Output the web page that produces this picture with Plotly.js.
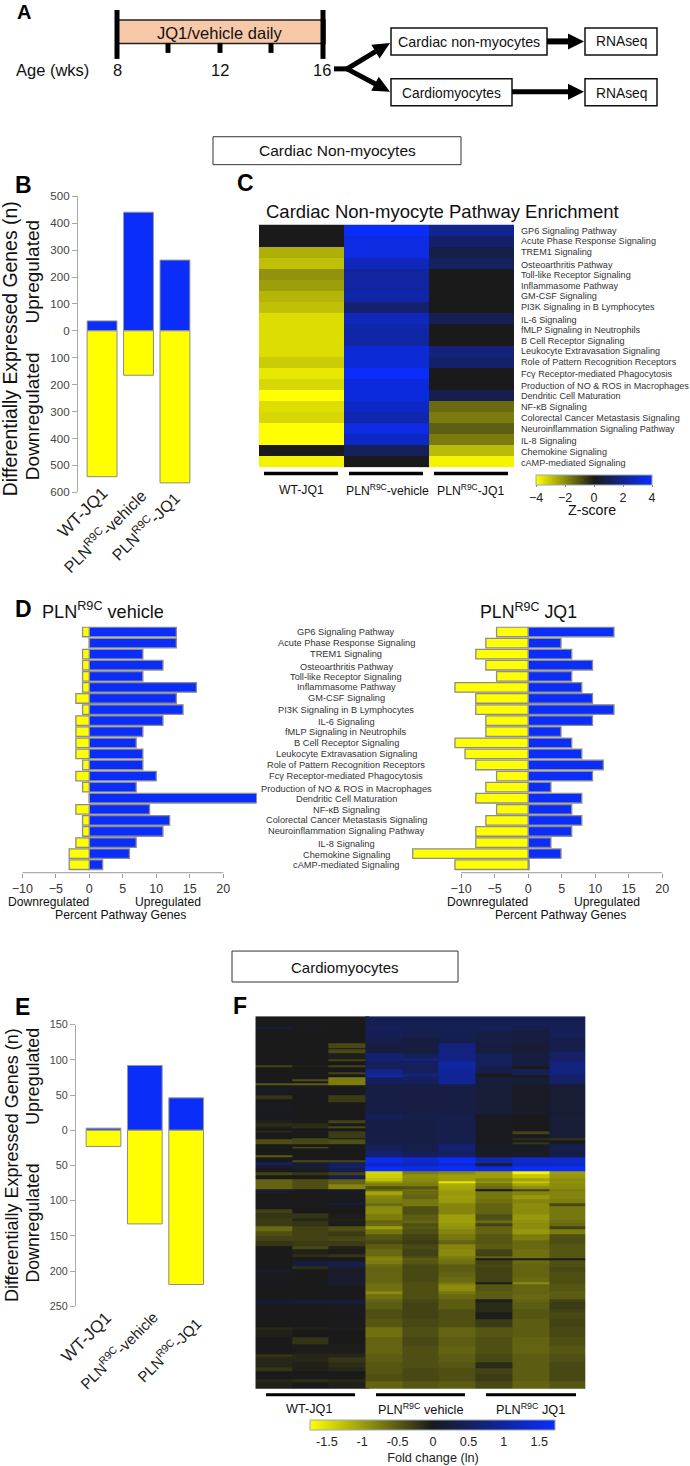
<!DOCTYPE html>
<html><head><meta charset="utf-8">
<script src="https://cdn.plot.ly/plotly-3.0.1.min.js"></script>
<style>html,body{margin:0;padding:0;background:#fff}</style></head>
<body><div id="chart" style="width:690px;height:1466px"></div>
<script>
// ---------- DATA ----------
const groupsB = ['WT-JQ1','PLN<sup>R9C</sup>-vehicle','PLN<sup>R9C</sup>-JQ1'];
const upB = [37, 441, 263];
const downB = [542, 165, 565];
const upE = [3, 92, 46];
const downE = [23, 133, 219];
const tickB = [500,400,300,200,100,0,-100,-200,-300,-400,-500,-600];
const tickE = [150,100,50,0,-50,-100,-150,-200,-250];
const pathways = ['GP6 Signaling Pathway','Acute Phase Response Signaling','TREM1 Signaling','Osteoarthritis Pathway','Toll-like Receptor Signaling','Inflammasome Pathway','GM-CSF Signaling','PI3K Signaling in B Lymphocytes','IL-6 Signaling','fMLP Signaling in Neutrophils','B Cell Receptor Signaling','Leukocyte Extravasation Signaling','Role of Pattern Recognition Receptors','Fcγ Receptor-mediated Phagocytosis','Production of NO & ROS in Macrophages','Dendritic Cell Maturation','NF-κB Signaling','Colorectal Cancer Metastasis Signaling','Neuroinflammation Signaling Pathway','IL-8 Signaling','Chemokine Signaling','cAMP-mediated Signaling'];
const zWT = [0,0,-2.6,-2.9,-2.1,-2.3,-2.7,-2.9,-3.4,-3.4,-3.4,-3.4,-3.1,-3.6,-3.3,-4,-3.4,-3.3,-4,-4,0,-3.8];
const zVeh = [3.9,3.5,3.5,2.8,2.3,2.4,2.5,1.5,2.8,2.5,2.4,3.3,3.3,3.9,3.4,3.4,3.0,2.6,3.5,3.0,1.1,0];
const zJQ = [2.0,1.4,0.8,1.2,0,0,0,0,1.0,0,0,1.7,1.4,0,0,0.9,-1.4,-1.7,-1.2,-1.7,-2.8,-3.8];
const vehUp = [13,13,8,11,8,16,13,14,11,8,7,8,8,10,7,25,9,12,11,7,6,2];
const vehDown = [1,0,1,1,1,1,2,1,2,2,2,2,1,2,1,0,2,1,1,2,3,3];
const jqUp = [12.8,4.9,6.5,9.6,6.5,8,9.6,12.8,9.6,4.9,6.5,8,11.2,9.6,3.4,8,6.5,8,6.5,3.4,4.9,0.15];
const jqDown = [4.7,6.3,7.8,6.3,4.7,10.9,7.8,7.8,6.3,6.3,10.9,9.4,7.8,4.7,6.3,7.8,4.7,6.3,7.8,7.8,17.2,10.9];
// Fold change: [rank where the band ends, replicate values]
const wtBands = [
[10,0,0,0],[13.3,.2,.05,0],[26.7,0,0,0],[31.7,0,0,-.35],[33.3,0,.03,0],[36.7,0,0,-.35],[43.3,0,0,-.03],[45,0,0,-.3],[49.3,0,0,0],[51,-.3,-.05,-.3],
[55.7,0,0,0],[58.3,0,0,-.3],[61,0,0,0],[63.3,0,0,-.75],[65,0,-.4,-.75],[66.7,0,0,-.75],[69,-.45,-.5,-.75],[79.3,.05,.02,0],[82.7,-.2,0,-.25],[85.7,0,0,-.25],
[95,.05,0,0],[104,.03,0,0],[106.7,-.05,-.02,-.3],[110,-.15,-.12,0],[112.3,-.05,-.15,-.35],[115,0,0,0],[116.3,-.2,-.05,-.25],[121.7,0,0,-.25],[123.3,0,-.35,0],[128.3,-.4,-.35,-.4],
[130.7,0,0,0],[132.3,0,-.5,0],[139.3,0,0,0],[141,-.5,0,0],[144.3,0,0,0],[146.3,0,-.35,-.35],[149.4,.55,.2,.5],[151.7,.1,.2,.55],[156,0,.05,.4],[159.4,-.3,-.2,-.3],
[163.4,0,0,.4],[168.4,-.55,-.4,-.55],[172.7,-.55,-.4,-.8],[176.7,.15,.05,.1],[186,0,0,0],[189.4,.05,.05,.2],[193.4,0,0,0],[196.7,-.3,0,0],[201.7,-.2,-.2,-.02],[205,-.25,-.1,-.05],
[210,-.25,-.2,-.02],[215,-.6,-.3,-.4],[220,-.4,-.3,-.25],[225,-.3,-.3,-.35],[230,-.2,-.25,-.25],[233.4,0,-.35,-.05],[238.4,0,-.05,-.02],[241.7,0,-.15,-.2],[245,0,0,0],[250.7,0,.3,.35],
[253.4,0,-.15,.2],[256.7,.15,0,.05],[269,.03,0,.15],[283.4,0,0,.03],[288.4,.15,.2,.2],[311.7,0,0,.02],[314.4,-.1,-.05,-.02],[321.7,-.05,0,0],[328.4,0,-.2,0],[338.4,0,-.02,-.02],
[341.7,-.2,-.1,-.1],[346.7,-.1,-.1,-.2],[351.7,-.1,-.05,-.15],[355,-.2,-.05,-.1],[363.4,0,0,0],[366.7,-.1,-.15,-.1],[373,-.05,0,-.05]
];
const plnBands = [
[10,.42,.42,.42,.42,.42,.42],[15,.47,.42,.42,.47,.38,.47],[21.7,.42,.38,.42,.33,.28,.47],[26.7,.38,.28,.38,.33,.28,.38],[35,.28,.28,.75,.28,.2,.38],[36.7,.28,.28,.8,.28,.2,.58],[41.7,.66,.5,.8,.5,.28,.58],[45,.66,.7,.8,.5,.28,.58],[50,.47,.5,1.05,.5,.28,.75],[53,.47,.5,1,.38,.02,.75],
[56.7,.88,.5,.97,.38,.45,.75],[59,.88,.7,.92,0,.45,.75],[61,1.15,.7,.92,.02,.02,.58],[68.3,.5,.5,.92,.28,.2,.58],[98.3,.33,.31,.33,.23,.1,.2],[103.3,.5,.38,.38,.05,.03,.23],[115,.33,.33,.38,.05,.02,.23],[118.3,.33,.33,.38,.05,-.3,.23],[121.7,.33,.33,.38,.05,.02,.23],[123.7,.33,.33,.38,.03,-.15,-.2],
[125.7,.33,.33,.38,.03,.02,.05],[128.3,.33,.33,.38,.03,-.2,.05],[135,.47,.38,.66,.1,.1,.38],[140,.66,.47,.55,.1,.1,.33],[141,.55,.47,.47,.1,.1,.33],[146.7,1.6,1.4,1.65,1.1,1.35,1.35],[150,1.25,1.15,1.35,.3,1.25,1.3],[155,1.75,1.6,1.75,1.5,1.7,1.7],[158.4,-1.4,-.75,-.85,-1,-1.65,-1],[161.7,-1.35,-.9,-1,-1,-1.3,-.95],
[165,-1.25,-.85,-1,-.8,-1.05,-.85],[167.4,-.95,-.8,-1.55,-.9,-1.3,-.9],[170,-.75,-.75,-1.1,-.7,-1.05,-.85],[173.4,-.4,-.45,-1.05,-.6,-.85,-.85],[174.7,-.6,-.65,-1,0,-.3,-.75],[179,-1.05,-.6,-.95,-.7,-.8,-.8],[183.4,-.8,-.55,-1,-.7,-.95,-.8],[187.4,-.75,-.7,-.95,-.65,-.8,-.75],[190,-.6,-.7,-.8,-.55,-.85,-.35],[198.4,-.85,-.4,-.8,-.55,-.85,-.7],
[204,-.75,-.5,-1,-.4,-.95,-.7],[206.7,-.55,-.55,-1,-.6,-.9,-.65],[210.7,-.6,-.4,-.95,-.3,-.85,-.6],[213.4,-1,-.45,-.9,-.55,-.85,-.3],[218.4,-.7,-.4,-.8,-.55,-.95,-.75],[224,-.45,-.3,-.7,-.45,-.75,-.4],[228.4,-.35,-.25,-.55,-.45,-.6,-.4],[233.4,-.5,-.35,-.8,-.5,-.6,-.45],[240,-.6,-.3,-.85,-.3,-.65,-.45],[242.4,-.75,-.4,-.75,-.55,-.65,-.45],
[244,-.8,-.5,-.7,0,-.02,-.02],[248.4,-.75,-.45,-.65,-.3,-.6,-.4],[251.7,-.6,-.35,-.5,-.35,-.55,-.4],[256.7,-.55,-.35,-.5,-.3,-.55,-.35],[261.7,-.55,-.35,-.55,-.3,-.55,-.4],[266.7,-.55,-.35,-.6,-.3,-.6,-.4],[268.4,-.6,-.4,-.7,-.02,-.85,-.4],[275,-.65,-.4,-.85,-.45,-.55,-.45],[278.4,-.85,-.4,-.7,-.5,-.55,-.5],[283.4,-.65,-.4,-.6,-.5,-.6,-.5],
[286.7,-.55,-.35,-.5,-.03,-.55,-.3],[293.4,-.5,-.3,-.5,-.12,-.5,-.25],[296.7,-.4,-.3,-.4,-.12,-.45,-.3],[303.4,-.4,-.3,-.4,-.02,-.45,-.35],[311.7,-.45,-.35,-.4,-.25,-.5,-.3],[321.7,-.65,-.4,-.55,-.45,-.5,-.35],[330,-.55,-.35,-.5,-.4,-.55,-.4],[338.4,-.55,-.4,-.55,-.4,-.55,-.45],[346.7,-.5,-.4,-.5,-.35,-.5,-.4],[352.4,-.45,-.4,-.45,-.12,-.5,-.35],
[358.4,-.45,-.35,-.4,-.3,-.5,-.35],[365,-.4,-.35,-.4,-.25,-.5,-.35],[373,-.55,-.45,-.5,-.35,-.55,-.45]
];

// ---------- HELPERS ----------
const W=690,H=1466;
const FONT='"Liberation Sans",Arial,sans-serif';
const BLUE='#0a2dfa',YEL='#ffff00',BLK='#1a1a1a';
const HEAT=[[0,YEL],[.5,BLK],[1,'#0a2dff']];
const px=x=>x/W, py=y=>1-y/H;
const domX=(a,b)=>[px(a),px(b)], domY=(t,b)=>[py(b),py(t)];
const anns=[],shapes=[];
function txt(x,y,text,size,o){anns.push(Object.assign({xref:'paper',yref:'paper',x:px(x),y:py(y),text,showarrow:false,
  font:{size,family:FONT,color:'#111'},xanchor:'center',yanchor:'middle',borderpad:0},o||{}));}
function line(x0,y0,x1,y1,w,c){shapes.push({type:'line',xref:'paper',yref:'paper',x0:px(x0),y0:py(y0),x1:px(x1),y1:py(y1),line:{width:w,color:c||'#000'}});}
function rect(x0,y0,x1,y1,w,fill,c){shapes.push({type:'rect',xref:'paper',yref:'paper',x0:px(x0),y0:py(y0),x1:px(x1),y1:py(y1),line:{width:w,color:c||'#111'},fillcolor:fill||'#fff'});}
function arrow(x0,y0,x1,y1,w,hl,hw){const d=Math.hypot(x1-x0,y1-y0),ux=(x1-x0)/d,uy=(y1-y0)/d;const bx=x1-ux*hl,by=y1-uy*hl;
  line(x0,y0,bx+ux,by+uy,w);
  const a=[bx-uy*hw,by+ux*hw],b=[bx+uy*hw,by-ux*hw];
  shapes.push({type:'path',xref:'paper',yref:'paper',path:`M${px(x1)},${py(y1)} L${px(a[0])},${py(a[1])} L${px(b[0])},${py(b[1])} Z`,fillcolor:'#000',line:{width:0}});}
function letter(x,y,t,s){s=s||23;txt(x,y,t,s,{font:{size:s,family:FONT,color:'#000',weight:900}});}

// ---------- PANEL A ----------
letter(24,12,'<b>A</b>',20);
rect(116,20,325,43.5,1.5,'#f8c9a8','#222');
[117,323].forEach(x=>line(x,10,x,59,5));
[168,220,271].forEach(x=>line(x,43,x,53,5));
txt(220,33,'JQ1/vehicle daily',16.5);
txt(52,70,'Age (wks)',16.5);
txt(117,70,'8',16.5);txt(220,70,'12',16.5);txt(322,70,'16',16.5);
line(334,69,349,69,5);
arrow(347,69,390,43,5,17,8);
arrow(347,69,390,92,5,17,8);
rect(391,28,547,55,1.5);txt(469,42,'Cardiac non-myocytes',14.3);
rect(391,79,512,106,1.5);txt(451.5,94,'Cardiomyocytes',13.8);
arrow(547,41.5,584,41.5,6,16,8);
arrow(512,92,584,92,5,16,8);
rect(585,28,657,55,1.5);txt(621,42,'RNAseq',13.8);
rect(585,79,657,106,1.5);txt(621,94,'RNAseq',13.8);
rect(213,137,461,165,1,'#fff','#333');txt(337,151,'Cardiac Non-myocytes',15.5);
rect(232,953,458,984,1,'#fff','#333');txt(345,969,'Cardiomyocytes',15);

// ---------- TRACES ----------
const cat=['WT-JQ1','PLN vehicle','PLN JQ1'];
const gray={color:'#8c8c8c',width:1};
const grayD={color:'#8c8c8c',width:1.3};
const barLine={color:'#999',width:1};
const edges=b=>[0].concat(b.map(r=>r[0]));
const traces=[
 {type:'bar',x:cat,y:upB,marker:{color:BLUE,line:barLine},width:.82,xaxis:'x',yaxis:'y'},
 {type:'bar',x:cat,y:downB.map(v=>-v),marker:{color:YEL,line:gray},width:.82,xaxis:'x',yaxis:'y'},
 {type:'heatmap',x:cat,y:pathways,z:pathways.map((_,i)=>[zWT[i],zVeh[i],zJQ[i]]),xaxis:'x2',yaxis:'y2',colorscale:HEAT,zmin:-4,zmax:4,
  colorbar:{orientation:'h',thicknessmode:'pixels',thickness:10,lenmode:'pixels',len:116,x:px(594),xanchor:'center',y:py(476),yanchor:'top',xpad:0,ypad:0,
   tickvals:[-4,-2,0,2,4],ticks:'outside',ticklen:2,tickcolor:'#888',outlinewidth:1,outlinecolor:'#9aa',tickfont:{size:12.5,family:FONT,color:'#222'}}},
 {type:'bar',orientation:'h',y:pathways,x:vehUp,marker:{color:BLUE,line:grayD},width:.86,xaxis:'x3',yaxis:'y3'},
 {type:'bar',orientation:'h',y:pathways,x:vehDown.map(v=>-v),marker:{color:YEL,line:grayD},width:.86,xaxis:'x3',yaxis:'y3'},
 {type:'bar',orientation:'h',y:pathways,x:jqUp,marker:{color:BLUE,line:grayD},width:.86,xaxis:'x4',yaxis:'y4'},
 {type:'bar',orientation:'h',y:pathways,x:jqDown.map(v=>-v),marker:{color:YEL,line:grayD},width:.86,xaxis:'x4',yaxis:'y4'},
 {type:'bar',x:cat,y:upE,marker:{color:BLUE,line:barLine},width:.84,xaxis:'x5',yaxis:'y5'},
 {type:'bar',x:cat,y:downE.map(v=>-v),marker:{color:YEL,line:gray},width:.84,xaxis:'x5',yaxis:'y5'},
 {type:'heatmap',x:[-.5,.5,1.5,2.6],y:edges(wtBands),z:wtBands.map(r=>r.slice(1)),xaxis:'x6',yaxis:'y6',colorscale:HEAT,zmin:-1.73,zmax:1.73,showscale:false},
 {type:'heatmap',x:[2.5,3.5,4.5,5.5,6.5,7.5,8.5],y:edges(plnBands),z:plnBands.map(r=>r.slice(1)),xaxis:'x6',yaxis:'y6',colorscale:HEAT,zmin:-1.73,zmax:1.73,
  colorbar:{orientation:'h',thicknessmode:'pixels',thickness:10,lenmode:'pixels',len:245,x:px(433),xanchor:'center',y:py(1423),yanchor:'top',xpad:0,ypad:0,
   tickvals:[-1.5,-1,-.5,0,.5,1,1.5],ticktext:['-1.5','-1','-0.5','0','0.5','1','1.5'],ticks:'',outlinewidth:1,outlinecolor:'#9ab',tickfont:{size:12.6,family:FONT,color:'#222'},
   title:{text:'Fold change (ln)',side:'bottom',font:{size:12.7,family:FONT,color:'#222'}}}}
];

// ---------- PANEL B / E labels ----------
const ylab=(x,y,t,size)=>txt(x,y,t,size,{textangle:-90});
letter(23,185,'<b>B</b>');
ylab(10,350,'Differentially Expressed Genes (n)',19.4);
ylab(32,272,'Upregulated',19);
ylab(32,417,'Downregulated',19);
const rot=(x,y,t,s)=>txt(x,y,t,s,{textangle:-45,font:{size:s,family:FONT,color:'#222'}});
rot(83,514,groupsB[0],17);rot(104,532,groupsB[1],16);rot(145,527,groupsB[2],16);
letter(22,1009,'<b>E</b>');
ylab(12,1167.5,'Differentially Expressed Genes (n)',18);
ylab(33,1079,'Upregulated',17.8);
ylab(33,1226,'Downregulated',17.7);
rot(86,1340,groupsB[0],17);rot(118,1352,groupsB[1],15);rot(168,1352,groupsB[2],15);

// ---------- PANEL C labels ----------
letter(245,183,'<b>C</b>');
txt(442.5,212,'Cardiac Non-myocyte Pathway Enrichment',18.5);
const shiftC=[1,0,0,1.5,1,1,0,0,1.5,1,1,0,0,0,1.5,.5,.5,0,0,1.5,1,1];
pathways.forEach((p,i)=>anns.push({xref:'paper',yref:'y2',x:px(518.5),y:p,yshift:-shiftC[i],text:p,showarrow:false,xanchor:'left',yanchor:'middle',font:{size:9.1,family:FONT,color:'#333'}}));
[[264,338],[349,423],[434,508]].forEach(a=>line(a[0],474.5,a[1],474.5,3.5));
txt(301,491.5,'WT-JQ1',12.2);txt(387,491.5,'PLN<sup>R9C</sup>-vehicle',12.2);txt(470,491,'PLN<sup>R9C</sup>-JQ1',12.2);
txt(592,511.5,'Z-score',14.2);

// ---------- PANEL D labels ----------
letter(23,610,'<b>D</b>');
txt(41,612,'PLN<sup>R9C</sup> vehicle',18.1,{xanchor:'left'});
txt(528.5,612,'PLN<sup>R9C</sup> JQ1',17.8);
const shiftD=[0,0,0,1.5,1,0,0,0,1,0,0,0,0,0,1.5,.5,.5,0,0,1.5,1,0];
pathways.forEach((p,i)=>anns.push({xref:'paper',yref:'y3',x:px(346),y:p,yshift:-shiftD[i],text:p,showarrow:false,xanchor:'center',yanchor:'middle',font:{size:9.25,family:FONT,color:'#333'}}));
txt(48,903.5,'Downregulated',12.1);txt(168,903.5,'Upregulated',12.1);txt(120,917,'Percent Pathway Genes',12.2);
txt(487.5,903.5,'Downregulated',12.1);txt(606.5,903.5,'Upregulated',12.1);txt(560,917,'Percent Pathway Genes',12.2);
[['x3',874.5],['x4',874.5]].forEach(a=>shapes.push({type:'line',xref:a[0],yref:'paper',x0:-10,x1:20,y0:py(a[1]),y1:py(a[1]),line:{width:1,color:'#999'}}));

// ---------- PANEL F labels ----------
letter(240,1008,'<b>F</b>');
[[266,355],[376,465],[486,576]].forEach(a=>line(a[0],1397.7,a[1],1397.7,3));
txt(309,1411.5,'WT-JQ1',12.7);txt(420,1411.5,'PLN<sup>R9C</sup> vehicle',12.7);txt(530,1411.5,'PLN<sup>R9C</sup> JQ1',12.7);

// ---------- LAYOUT ----------
const hide={visible:false};
const axisY=(dom,vals,x,rng,fs)=>({domain:dom,range:rng,tickvals:vals,ticktext:vals.map(v=>String(Math.abs(v))),anchor:x,showgrid:false,zeroline:false,showline:true,linecolor:'#aaa',ticks:'outside',ticklen:5,tickcolor:'#aaa',tickfont:{size:fs,family:FONT,color:'#444'}});
const axisDx=(dom,rng,y)=>({domain:dom,range:rng,anchor:y,tickvals:[-10,-5,0,5,10,15,20],ticks:'outside',ticklen:4,tickcolor:'#999',showgrid:false,zeroline:false,showline:false,tickfont:{size:12.5,family:FONT,color:'#333'}});
const axisDy=(dom,x)=>({domain:dom,range:[21.72,-.5],type:'category',anchor:x,visible:false,showgrid:false});
const layout={width:W,height:H,margin:{l:0,r:0,t:0,b:0},paper_bgcolor:'#fff',plot_bgcolor:'rgba(0,0,0,0)',showlegend:false,barmode:'overlay',
 font:{family:FONT},annotations:anns,shapes:shapes,
 xaxis:{domain:domX(78,195),range:[-.66,2.55],type:'category',anchor:'y',showticklabels:false,showgrid:false,ticks:'',zeroline:false},
 yaxis:axisY(domY(196.7,493.3),tickB,'x',[-600,500],11.6),
 xaxis2:Object.assign({domain:domX(259,514.3),range:[-.5,2.5],type:'category',anchor:'y2'},hide),
 yaxis2:Object.assign({domain:domY(225,468.3),range:[21.5,-.5],type:'category',anchor:'x2'},hide),
 xaxis3:axisDx(domX(22.3,256.7),[-10,25],'y3'),
 yaxis3:axisDy(domY(627.7,874.5),'x3'),
 xaxis4:axisDx(domX(407,662.3),[-18.05,20],'y4'),
 yaxis4:axisDy(domY(627.7,874.5),'x4'),
 xaxis5:{domain:domX(76,206),range:[-.665,2.48],type:'category',anchor:'y5',showticklabels:false,showgrid:false,ticks:'',zeroline:false},
 yaxis5:axisY(domY(1026.7,1309),tickE,'x5',[-250,150],10.8),
 xaxis6:Object.assign({domain:domX(255.3,585.7),range:[-.5,8.5],anchor:'y6'},hide),
 yaxis6:Object.assign({domain:domY(1018.3,1391.7),range:[373,0],anchor:'x6'},hide)
};
Plotly.newPlot('chart',traces,layout,{displayModeBar:false,staticPlot:true});
</script></body></html>
